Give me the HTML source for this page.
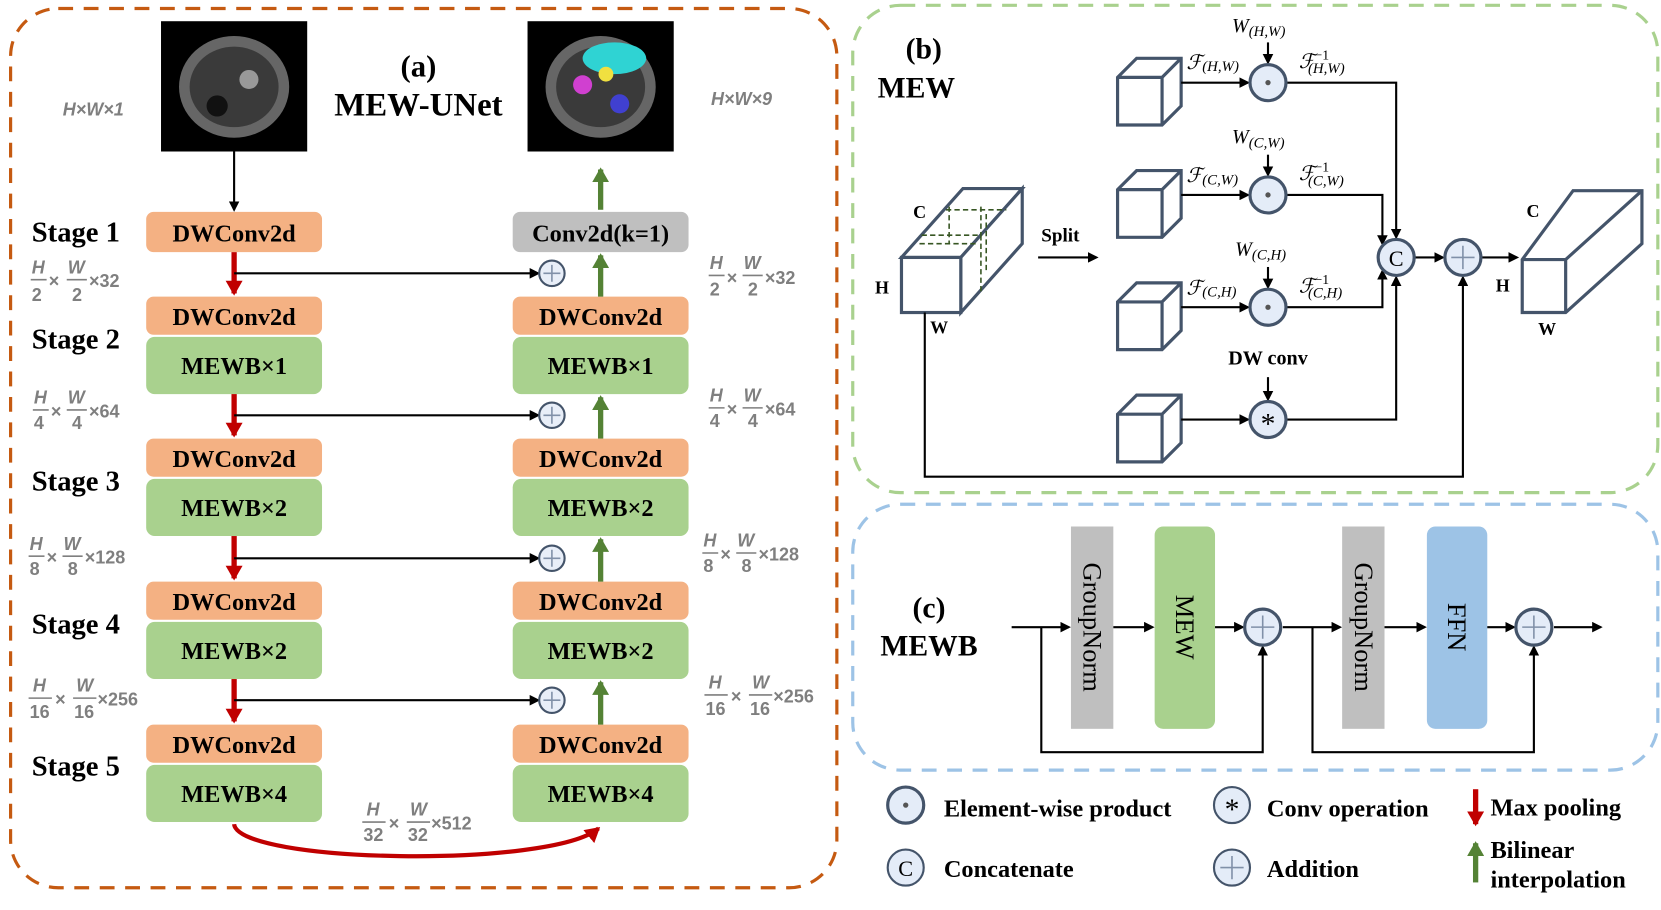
<!DOCTYPE html>
<html><head><meta charset="utf-8"><style>
html,body{margin:0;padding:0;background:#fff}
svg{display:block}
text{font-family:"Liberation Serif",serif}
.b{font-weight:bold}
.gi text{fill:#7f7f7f;font-family:"Liberation Sans",sans-serif;font-weight:bold;font-size:17px}
.gi text.i{font-style:italic}
</style></head><body>
<svg width="1661" height="910" viewBox="0 0 1568 859" xmlns="http://www.w3.org/2000/svg">
<defs>
<marker id="ak" markerWidth="10" markerHeight="10" refX="8" refY="5" orient="auto" markerUnits="userSpaceOnUse"><path d="M0,0 L10,5 L0,10 z" fill="#000"/></marker>
<marker id="ar" markerWidth="16" markerHeight="16" refX="12" refY="8" orient="auto" markerUnits="userSpaceOnUse"><path d="M0,0 L14,8 L0,16 z" fill="#c00000"/></marker>
<marker id="ag" markerWidth="16" markerHeight="16" refX="12" refY="8" orient="auto" markerUnits="userSpaceOnUse"><path d="M0,0 L14,8 L0,16 z" fill="#548235"/></marker>
<g id="cube"><path d="M0,18 L18,0 L60,0 L60,45 L42,63 L0,63 z M0,18 L42,18 L60,0 M42,18 L42,63" fill="#fff" stroke="#44546a" stroke-width="3"/></g>
<g id="plus"><circle r="12" fill="#e8eef8" stroke="#44546a" stroke-width="2"/><path d="M-8,0 H8 M0,-8 V8" stroke="#8090a8" stroke-width="1.5"/></g>
<g id="dot"><circle r="17" fill="#e4ecf8" stroke="#44546a" stroke-width="3"/><circle r="2.5" fill="#555"/></g>
</defs>
<rect x="10" y="8" width="780" height="830" rx="45" fill="none" stroke="#c55a11" stroke-width="3" stroke-dasharray="14,10"/>
<rect x="805" y="5" width="760" height="460" rx="45" fill="none" stroke="#a9d18e" stroke-width="3" stroke-dasharray="14,10"/>
<rect x="805" y="476" width="760" height="251" rx="45" fill="none" stroke="#9dc3e6" stroke-width="3" stroke-dasharray="14,10"/>

<rect x="152" y="20" width="138" height="123" fill="#000"/>
<ellipse cx="221" cy="82" rx="52" ry="48" fill="#666"/><ellipse cx="221" cy="82" rx="42" ry="38" fill="#3a3a3a"/><circle cx="205" cy="100" r="10" fill="#111"/><circle cx="235" cy="75" r="9" fill="#999"/>
<rect x="498" y="20" width="138" height="123" fill="#000"/>
<ellipse cx="567" cy="82" rx="52" ry="48" fill="#666"/><ellipse cx="567" cy="82" rx="42" ry="38" fill="#3a3a3a"/><ellipse cx="580" cy="55" rx="30" ry="15" fill="#2fd3d3"/><circle cx="550" cy="80" r="9" fill="#d040d0"/><circle cx="585" cy="98" r="9" fill="#4040d0"/><circle cx="572" cy="70" r="7" fill="#f0e040"/>

<text x="395" y="72" text-anchor="middle" class="b" font-size="29">(a)</text>
<text x="395" y="109" text-anchor="middle" class="b" font-size="31">MEW-UNet</text>
<g class="gi"><text class="i" x="88" y="109" text-anchor="middle">H×W×1</text>
<text class="i" x="700" y="99" text-anchor="middle">H×W×9</text></g>

<g class="b" font-size="27">
<text x="30" y="228">Stage 1</text><text x="30" y="329">Stage 2</text><text x="30" y="463">Stage 3</text><text x="30" y="598">Stage 4</text><text x="30" y="732">Stage 5</text>
</g>

<g font-size="23" class="b" text-anchor="middle">
<rect x="138" y="200" width="166" height="38" rx="7" fill="#f4b183"/><text x="221" y="228">DWConv2d</text>
<rect x="138" y="280" width="166" height="36" rx="7" fill="#f4b183"/><text x="221" y="307">DWConv2d</text>
<rect x="138" y="318" width="166" height="54" rx="8" fill="#a9d18e"/><text x="221" y="353">MEWB×1</text>
<rect x="138" y="414" width="166" height="36" rx="7" fill="#f4b183"/><text x="221" y="441">DWConv2d</text>
<rect x="138" y="452" width="166" height="54" rx="8" fill="#a9d18e"/><text x="221" y="487">MEWB×2</text>
<rect x="138" y="549" width="166" height="36" rx="7" fill="#f4b183"/><text x="221" y="576">DWConv2d</text>
<rect x="138" y="587" width="166" height="54" rx="8" fill="#a9d18e"/><text x="221" y="622">MEWB×2</text>
<rect x="138" y="684" width="166" height="36" rx="7" fill="#f4b183"/><text x="221" y="711">DWConv2d</text>
<rect x="138" y="722" width="166" height="54" rx="8" fill="#a9d18e"/><text x="221" y="757">MEWB×4</text>
<rect x="484" y="200" width="166" height="38" rx="7" fill="#bfbfbf"/><text x="567" y="228">Conv2d(k=1)</text>
<rect x="484" y="280" width="166" height="36" rx="7" fill="#f4b183"/><text x="567" y="307">DWConv2d</text>
<rect x="484" y="318" width="166" height="54" rx="8" fill="#a9d18e"/><text x="567" y="353">MEWB×1</text>
<rect x="484" y="414" width="166" height="36" rx="7" fill="#f4b183"/><text x="567" y="441">DWConv2d</text>
<rect x="484" y="452" width="166" height="54" rx="8" fill="#a9d18e"/><text x="567" y="487">MEWB×2</text>
<rect x="484" y="549" width="166" height="36" rx="7" fill="#f4b183"/><text x="567" y="576">DWConv2d</text>
<rect x="484" y="587" width="166" height="54" rx="8" fill="#a9d18e"/><text x="567" y="622">MEWB×2</text>
<rect x="484" y="684" width="166" height="36" rx="7" fill="#f4b183"/><text x="567" y="711">DWConv2d</text>
<rect x="484" y="722" width="166" height="54" rx="8" fill="#a9d18e"/><text x="567" y="757">MEWB×4</text>
</g>

<line x1="221" y1="143" x2="221" y2="198" stroke="#000" stroke-width="2" marker-end="url(#ak)"/>
<g stroke="#c00000" stroke-width="5" marker-end="url(#ar)">
<line x1="221" y1="238" x2="221" y2="277"/><line x1="221" y1="372" x2="221" y2="411"/><line x1="221" y1="506" x2="221" y2="546"/><line x1="221" y1="641" x2="221" y2="681"/>
</g>
<g stroke="#548235" stroke-width="5" marker-end="url(#ag)">
<line x1="567" y1="280" x2="567" y2="241"/><line x1="567" y1="414" x2="567" y2="375"/><line x1="567" y1="549" x2="567" y2="509"/><line x1="567" y1="684" x2="567" y2="644"/><line x1="567" y1="198" x2="567" y2="160"/>
</g>
<g stroke="#000" stroke-width="2" marker-end="url(#ak)">
<line x1="221" y1="258" x2="508" y2="258"/><line x1="221" y1="392" x2="508" y2="392"/><line x1="221" y1="527" x2="508" y2="527"/><line x1="221" y1="661" x2="508" y2="661"/>
</g>
<use href="#plus" x="521" y="258"/><use href="#plus" x="521" y="392"/><use href="#plus" x="521" y="527"/><use href="#plus" x="521" y="661"/>
<path d="M221,778 C225,815 520,820 565,782" fill="none" stroke="#c00000" stroke-width="4" marker-end="url(#ar)"/>

<g class="gi">
<text class="i" x="30" y="258">H</text><text x="30" y="284">2</text><text x="46" y="271">×</text><text class="i" x="64" y="258">W</text><text x="68" y="284">2</text><text x="84" y="271">×32</text>
<text class="i" x="670" y="254">H</text><text x="670" y="279">2</text><text x="686" y="268">×</text><text class="i" x="702" y="254">W</text><text x="706" y="279">2</text><text x="722" y="268">×32</text>
<text class="i" x="32" y="381">H</text><text x="32" y="405">4</text><text x="48" y="394">×</text><text class="i" x="64" y="381">W</text><text x="68" y="405">4</text><text x="84" y="394">×64</text>
<text class="i" x="670" y="379">H</text><text x="670" y="403">4</text><text x="686" y="392">×</text><text class="i" x="702" y="379">W</text><text x="706" y="403">4</text><text x="722" y="392">×64</text>
<text class="i" x="28" y="519">H</text><text x="28" y="543">8</text><text x="44" y="532">×</text><text class="i" x="60" y="519">W</text><text x="64" y="543">8</text><text x="80" y="532">×128</text>
<text class="i" x="664" y="516">H</text><text x="664" y="540">8</text><text x="680" y="529">×</text><text class="i" x="696" y="516">W</text><text x="700" y="540">8</text><text x="716" y="529">×128</text>
<text class="i" x="31" y="653">H</text><text x="28" y="678">16</text><text x="52" y="666">×</text><text class="i" x="72" y="653">W</text><text x="70" y="678">16</text><text x="92" y="666">×256</text>
<text class="i" x="669" y="650">H</text><text x="666" y="675">16</text><text x="690" y="663">×</text><text class="i" x="710" y="650">W</text><text x="708" y="675">16</text><text x="730" y="663">×256</text>
<text class="i" x="346" y="770">H</text><text x="343" y="794">32</text><text x="367" y="783">×</text><text class="i" x="387" y="770">W</text><text x="385" y="794">32</text><text x="407" y="783">×512</text>
</g>
<g stroke="#7f7f7f" stroke-width="1.5">
<line x1="29" y1="264" x2="44" y2="264"/><line x1="63" y1="264" x2="82" y2="264"/><line x1="669" y1="260" x2="684" y2="260"/><line x1="701" y1="260" x2="720" y2="260"/>
<line x1="31" y1="387" x2="46" y2="387"/><line x1="63" y1="387" x2="82" y2="387"/><line x1="669" y1="385" x2="684" y2="385"/><line x1="701" y1="385" x2="720" y2="385"/>
<line x1="27" y1="525" x2="42" y2="525"/><line x1="59" y1="525" x2="78" y2="525"/><line x1="663" y1="522" x2="678" y2="522"/><line x1="695" y1="522" x2="714" y2="522"/>
<line x1="27" y1="659" x2="49" y2="659"/><line x1="69" y1="659" x2="91" y2="659"/><line x1="665" y1="656" x2="687" y2="656"/><line x1="707" y1="656" x2="729" y2="656"/>
<line x1="342" y1="776" x2="364" y2="776"/><line x1="384" y1="776" x2="406" y2="776"/>
</g>

<text x="872" y="55" class="b" font-size="28" text-anchor="middle">(b)</text>
<text x="865" y="92" class="b" font-size="28" text-anchor="middle">MEW</text>
<path d="M851,243 L909,178 L965,178 L907,243 z" fill="#fff" stroke="#44546a" stroke-width="3"/>
<path d="M907,243 L965,178 L965,230 L907,295 z" fill="#fff" stroke="#44546a" stroke-width="3"/>
<rect x="851" y="243" width="56" height="52" fill="#fff" stroke="#44546a" stroke-width="3"/>
<path d="M870,222 L926,222 L926,275 M896,195 L896,230 M926,195 L926,222 M868,230 L924,230 M931,202 L931,257 M893,198 L950,198" fill="none" stroke="#375623" stroke-width="1.5" stroke-dasharray="5,3"/>
<g class="b" font-size="17"><text x="862" y="206">C</text><text x="826" y="277">H</text><text x="878" y="315">W</text>
<text x="1441" y="205">C</text><text x="1412" y="275">H</text><text x="1452" y="316">W</text></g>
<text x="1001" y="228" class="b" font-size="18" text-anchor="middle">Split</text>
<line x1="980" y1="243" x2="1035" y2="243" stroke="#000" stroke-width="2" marker-end="url(#ak)"/>
<use href="#cube" x="1055" y="55"/><use href="#cube" x="1055" y="161"/><use href="#cube" x="1055" y="267"/><use href="#cube" x="1055" y="373"/>
<g stroke="#000" stroke-width="2" fill="none">
<line x1="1115" y1="78" x2="1178" y2="78" marker-end="url(#ak)"/><line x1="1115" y1="184" x2="1178" y2="184" marker-end="url(#ak)"/><line x1="1115" y1="290" x2="1178" y2="290" marker-end="url(#ak)"/><line x1="1115" y1="396" x2="1178" y2="396" marker-end="url(#ak)"/>
<line x1="1197" y1="40" x2="1197" y2="59" marker-end="url(#ak)"/><line x1="1197" y1="146" x2="1197" y2="165" marker-end="url(#ak)"/><line x1="1197" y1="252" x2="1197" y2="271" marker-end="url(#ak)"/><line x1="1197" y1="356" x2="1197" y2="377" marker-end="url(#ak)"/>
<path d="M1214,78 H1318 V224" marker-end="url(#ak)"/><path d="M1214,184 H1305 V230" marker-end="url(#ak)"/><path d="M1214,290 H1305 V256" marker-end="url(#ak)"/><path d="M1214,396 H1318 V262" marker-end="url(#ak)"/>
<line x1="1336" y1="243" x2="1362" y2="243" marker-end="url(#ak)"/><line x1="1399" y1="243" x2="1432" y2="243" marker-end="url(#ak)"/>
<path d="M873,295 V450 H1381 V262" marker-end="url(#ak)"/>
</g>
<use href="#dot" x="1197" y="78"/><use href="#dot" x="1197" y="184"/><use href="#dot" x="1197" y="290"/>
<circle cx="1197" cy="396" r="17" fill="#e4ecf8" stroke="#44546a" stroke-width="3"/><text x="1197" y="409" text-anchor="middle" font-size="28" font-family="Liberation Sans">*</text>
<circle cx="1318" cy="243" r="17" fill="#e4ecf8" stroke="#44546a" stroke-width="3"/><text x="1318" y="251" text-anchor="middle" font-size="21" font-family="Liberation Sans">C</text>
<circle cx="1381" cy="243" r="17" fill="#e4ecf8" stroke="#44546a" stroke-width="3"/><path d="M1370,243 H1392 M1381,232 V254" stroke="#8090a8" stroke-width="1.5"/>
<path d="M1437,245 L1485,180 L1550,180 L1550,230 L1478,295 L1437,295 z M1437,245 L1478,245 L1550,180 M1478,245 L1478,295" fill="#fff" stroke="#44546a" stroke-width="3"/>
<g font-size="19" font-style="italic" font-family="DejaVu Serif,serif">
<text x="1163" y="30">W<tspan font-size="14" dy="4">(H,W)</tspan></text>
<text x="1163" y="135">W<tspan font-size="14" dy="4">(C,W)</tspan></text>
<text x="1166" y="241">W<tspan font-size="14" dy="4">(C,H)</tspan></text>
<text x="1120" y="65">ℱ<tspan font-size="14" dy="2">(H,W)</tspan></text>
<text x="1120" y="172">ℱ<tspan font-size="14" dy="2">(C,W)</tspan></text>
<text x="1120" y="278">ℱ<tspan font-size="14" dy="2">(C,H)</tspan></text>
<text x="1226" y="64">ℱ<tspan font-size="13" dy="-8" font-style="normal">−1</tspan><tspan font-size="14" dx="-20" dy="13">(H,W)</tspan></text>
<text x="1226" y="170">ℱ<tspan font-size="13" dy="-8" font-style="normal">−1</tspan><tspan font-size="14" dx="-20" dy="13">(C,W)</tspan></text>
<text x="1226" y="276">ℱ<tspan font-size="13" dy="-8" font-style="normal">−1</tspan><tspan font-size="14" dx="-20" dy="13">(C,H)</tspan></text>
</g>
<text x="1197" y="344" text-anchor="middle" class="b" font-size="19">DW conv</text>

<text x="877" y="583" class="b" font-size="28" text-anchor="middle">(c)</text>
<text x="877" y="619" class="b" font-size="28" text-anchor="middle">MEWB</text>
<rect x="1011" y="497" width="40" height="191" fill="#bfbfbf"/>
<rect x="1090" y="497" width="57" height="191" rx="8" fill="#a9d18e"/>
<rect x="1267" y="497" width="40" height="191" fill="#bfbfbf"/>
<rect x="1347" y="497" width="57" height="191" rx="8" fill="#9dc3e6"/>
<g font-size="25" font-family="Liberation Serif,serif">
<text transform="translate(1023,592) rotate(90)" text-anchor="middle">GroupNorm</text>
<text transform="translate(1110,592) rotate(90)" text-anchor="middle">MEW</text>
<text transform="translate(1279,592) rotate(90)" text-anchor="middle">GroupNorm</text>
<text transform="translate(1367,592) rotate(90)" text-anchor="middle">FFN</text>
</g>
<g stroke="#000" stroke-width="2" fill="none">
<line x1="955" y1="592" x2="1009" y2="592" marker-end="url(#ak)"/><line x1="1051" y1="592" x2="1088" y2="592" marker-end="url(#ak)"/><line x1="1147" y1="592" x2="1173" y2="592" marker-end="url(#ak)"/>
<line x1="1211" y1="592" x2="1265" y2="592" marker-end="url(#ak)"/><line x1="1307" y1="592" x2="1345" y2="592" marker-end="url(#ak)"/><line x1="1404" y1="592" x2="1429" y2="592" marker-end="url(#ak)"/><line x1="1467" y1="592" x2="1511" y2="592" marker-end="url(#ak)"/>
<path d="M983,592 V710 H1192 V611" marker-end="url(#ak)"/><path d="M1239,592 V710 H1448 V611" marker-end="url(#ak)"/>
</g>
<circle cx="1192" cy="592" r="17" fill="#e4ecf8" stroke="#44546a" stroke-width="3"/><path d="M1181,592 H1203 M1192,581 V603" stroke="#8090a8" stroke-width="1.5"/>
<circle cx="1448" cy="592" r="17" fill="#e4ecf8" stroke="#44546a" stroke-width="3"/><path d="M1437,592 H1459 M1448,581 V603" stroke="#8090a8" stroke-width="1.5"/>

<use href="#dot" x="855" y="760"/>
<circle cx="855" cy="819" r="17" fill="#e4ecf8" stroke="#44546a" stroke-width="2"/><text x="855" y="827" text-anchor="middle" font-size="21" font-family="Liberation Sans">C</text>
<circle cx="1163" cy="760" r="17" fill="#e4ecf8" stroke="#44546a" stroke-width="2"/><text x="1163" y="773" text-anchor="middle" font-size="28" font-family="Liberation Sans">*</text>
<circle cx="1163" cy="819" r="17" fill="#e4ecf8" stroke="#44546a" stroke-width="2"/><path d="M1152,819 H1174 M1163,808 V830" stroke="#8090a8" stroke-width="1.5"/>
<g class="b" font-size="23">
<text x="891" y="771">Element-wise product</text><text x="891" y="828">Concatenate</text>
<text x="1196" y="771">Conv operation</text><text x="1196" y="828">Addition</text>
<text x="1407" y="770">Max pooling</text><text x="1407" y="810">Bilinear</text><text x="1407" y="838">interpolation</text>
</g>
<line x1="1393" y1="745" x2="1393" y2="778" stroke="#c00000" stroke-width="5" marker-end="url(#ar)"/>
<line x1="1393" y1="833" x2="1393" y2="796" stroke="#548235" stroke-width="5" marker-end="url(#ag)"/>
</svg>
</body></html>
